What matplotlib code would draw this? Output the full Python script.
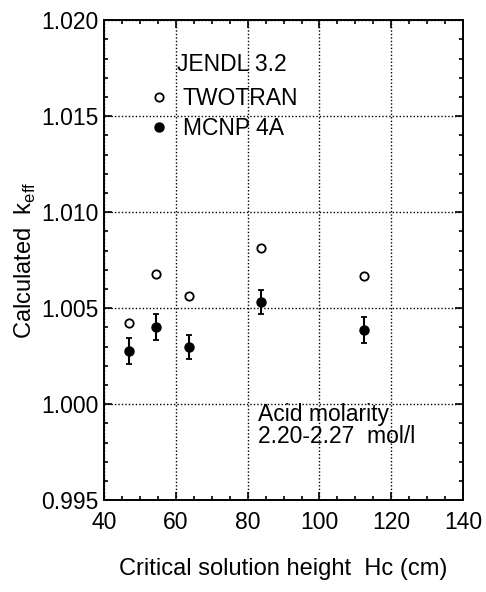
import numpy as np
import matplotlib.pyplot as plt
from matplotlib.ticker import MultipleLocator
from matplotlib.lines import Line2D

plt.rcParams['font.family'] = ['Liberation Sans', 'DejaVu Sans']

# critical solution height (cm)
height_twotran = [47.0, 54.5, 63.8, 83.8, 112.3]
keff_twotran = [1.00423, 1.00678, 1.00563, 1.00815, 1.00666]

height_mcnp = [47.0, 54.5, 63.8, 83.8, 112.3]
keff_mcnp = [1.00277, 1.00403, 1.00298, 1.00532, 1.00386]
err_mcnp = [0.00070, 0.00067, 0.00065, 0.00062, 0.00069]

fig = plt.figure(figsize=(4.86, 5.92), dpi=100)
ax = fig.add_axes([0.214, 0.155, 0.739, 0.811])

ax.plot(height_twotran, keff_twotran, 'o', mfc='white', mec='black',
        mew=1.3, ms=6)
ax.errorbar(height_mcnp, keff_mcnp, yerr=err_mcnp, fmt='o', color='black',
            ms=6.5, capsize=2, elinewidth=1.5, capthick=1.3)

ax.set_xlim(40, 140)
ax.set_ylim(0.995, 1.020)
ax.xaxis.set_major_locator(MultipleLocator(20))
ax.xaxis.set_minor_locator(MultipleLocator(5))
ax.yaxis.set_major_locator(MultipleLocator(0.005))
ax.yaxis.set_minor_locator(MultipleLocator(0.001))
ax.yaxis.set_major_formatter(plt.FormatStrFormatter('%.3f'))
ax.tick_params(which='both', direction='in', top=True, right=True,
               labelsize=16.5, width=1.2)
ax.tick_params(which='major', length=6)
ax.tick_params(which='minor', length=3)
ax.tick_params(axis='x', pad=8)
ax.tick_params(axis='y', pad=4)
for s in ax.spines.values():
    s.set_linewidth(1.4)
ax.grid(True, which='major', linestyle=(0, (1, 1.5)), color='black', linewidth=1.0)

ax.set_xlabel('Critical solution height  Hc (cm)', fontsize=17, labelpad=17)
ax.set_ylabel('Calculated  k$_{\\mathregular{eff}}$', fontsize=17, labelpad=2)

ax.text(0.204, 0.908, 'JENDL 3.2', transform=ax.transAxes, fontsize=16.5,
        va='center')
handles = [Line2D([], [], ls='none', marker='o', mfc='white', mec='black',
                  mew=1.3, ms=6),
           Line2D([], [], ls='none', marker='o', color='black', ms=6.5)]
ax.legend(handles, ['TWOTRAN', 'MCNP 4A'], loc='upper left',
          bbox_to_anchor=(0.12, 0.86), frameon=False, fontsize=16.5,
          handletextpad=0.55, borderaxespad=0, borderpad=0,
          labelspacing=0.3, handlelength=1.0)

ax.text(0.43, 0.202, 'Acid molarity\n2.20-2.27  mol/l', transform=ax.transAxes,
        fontsize=16.5, va='top', linespacing=0.95)

fig.savefig('out.png', dpi=100)
